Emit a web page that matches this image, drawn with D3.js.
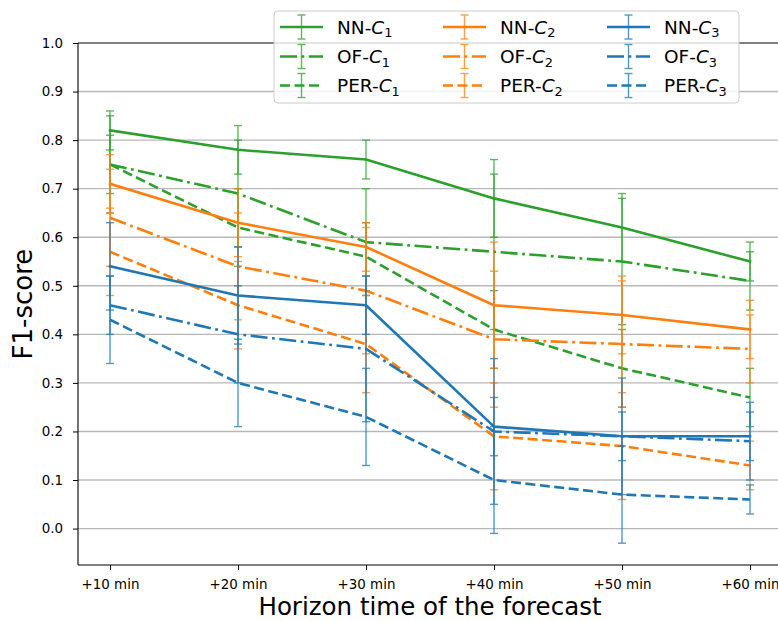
<!DOCTYPE html>
<html><head><meta charset="utf-8">
<script src="https://cdn.jsdelivr.net/npm/d3@7"></script>
<style>body{margin:0;background:#fff}svg{display:block;font-family:"DejaVu Sans",sans-serif}</style>
</head><body><svg id="c" width="778" height="621"></svg>
<script>
// ---- data ----
const horizons = [10, 20, 30, 40, 50, 60];
const tickLabels = ["+10 min", "+20 min", "+30 min", "+40 min", "+50 min", "+60 min"];
const yTicks = [0.0, 0.1, 0.2, 0.3, 0.4, 0.5, 0.6, 0.7, 0.8, 0.9, 1.0];

const nnC1 = [0.82, 0.78, 0.76, 0.68, 0.62, 0.55];
const nnC1Err = [0.04, 0.05, 0.04, 0.08, 0.07, 0.04];
const ofC1 = [0.75, 0.69, 0.59, 0.57, 0.55, 0.51];
const ofC1Err = [0.10, 0.11, 0.11, 0.16, 0.13, 0.06];
const perC1 = [0.75, 0.62, 0.56, 0.41, 0.33, 0.27];
const perC1Err = [0.06, 0.08, 0.07, 0.08, 0.08, 0.06];

const nnC2 = [0.71, 0.63, 0.58, 0.46, 0.44, 0.41];
const nnC2Err = [0.06, 0.07, 0.05, 0.13, 0.08, 0.06];
const ofC2 = [0.64, 0.54, 0.49, 0.39, 0.38, 0.37];
const ofC2Err = [0.10, 0.11, 0.13, 0.14, 0.13, 0.07];
const perC2 = [0.57, 0.46, 0.38, 0.19, 0.17, 0.13];
const perC2Err = [0.09, 0.09, 0.10, 0.11, 0.11, 0.05];

const nnC3 = [0.54, 0.48, 0.46, 0.21, 0.19, 0.19];
const nnC3Err = [0.09, 0.10, 0.06, 0.06, 0.05, 0.05];
const ofC3 = [0.46, 0.40, 0.37, 0.20, 0.19, 0.18];
const ofC3Err = [0.06, 0.10, 0.15, 0.15, 0.12, 0.08];
const perC3 = [0.43, 0.30, 0.23, 0.10, 0.07, 0.06];
const perC3Err = [0.09, 0.09, 0.10, 0.11, 0.10, 0.03];

const methods = ["NN", "OF", "PER"];
const classes = ["1", "2", "3"];

// ---- styles ----
const classColor = {"1": "#2ca02c", "2": "#ff7f0e", "3": "#1f77b4"};
const LW = 2.6;
const methodDash = {"NN": null, "OF": [17, 4.5, 2.8, 4.5].join(","), "PER": [10, 4.5].join(",")};

const series = [
  {m: "NN", c: "1", v: nnC1, e: nnC1Err}, {m: "OF", c: "1", v: ofC1, e: ofC1Err}, {m: "PER", c: "1", v: perC1, e: perC1Err},
  {m: "NN", c: "2", v: nnC2, e: nnC2Err}, {m: "OF", c: "2", v: ofC2, e: ofC2Err}, {m: "PER", c: "2", v: perC2, e: perC2Err},
  {m: "NN", c: "3", v: nnC3, e: nnC3Err}, {m: "OF", c: "3", v: ofC3, e: ofC3Err}, {m: "PER", c: "3", v: perC3, e: perC3Err}
];

const svg = d3.select("#c");
const L = 78, R = 782, T = 43, B = 565;
const x = d3.scaleLinear().domain([7.5, 62.5]).range([L, R]);
const y = d3.scaleLinear().domain([-0.075, 1.0]).range([B, T]);

// grid
svg.append("g").selectAll("line").data(yTicks.filter(d => d < 1)).join("line")
  .attr("x1", L).attr("x2", R).attr("y1", d => y(d)).attr("y2", d => y(d))
  .attr("stroke", "#b8b8b8").attr("stroke-width", 1.4);

// axes
const gy = svg.append("g").attr("transform", `translate(${L},0)`)
  .call(d3.axisLeft(y).tickValues(yTicks).tickFormat(d3.format(".1f")).tickSize(5).tickPadding(10));
const gx = svg.append("g").attr("transform", `translate(0,${B})`)
  .call(d3.axisBottom(x).tickValues(horizons).tickFormat((d, i) => tickLabels[i]).tickSize(5).tickPadding(9.5));
[gx, gy].forEach(g => {
  g.select(".domain").remove();
  g.selectAll("text").attr("font-size", 13.4).attr("fill", "#000").attr("font-family", "DejaVu Sans");
  g.selectAll("line").attr("stroke", "#000").attr("stroke-width", 1);
});

// series
const line = d3.line().x(d => x(d.h)).y(d => y(d.v));
series.forEach(s => {
  const col = classColor[s.c];
  const pts = horizons.map((h, i) => ({h, v: s.v[i], e: s.e[i]}));
  const g = svg.append("g");
  const eb = g.append("g").attr("stroke", col).attr("stroke-width", 1.4).attr("opacity", 0.75);
  eb.selectAll("line.v").data(pts).join("line").attr("class", "v")
    .attr("x1", d => x(d.h)).attr("x2", d => x(d.h))
    .attr("y1", d => y(d.v - d.e)).attr("y2", d => y(d.v + d.e));
  eb.selectAll("line.ct").data(pts).join("line").attr("class", "ct")
    .attr("x1", d => x(d.h) - 4).attr("x2", d => x(d.h) + 4)
    .attr("y1", d => y(d.v + d.e)).attr("y2", d => y(d.v + d.e));
  eb.selectAll("line.cb").data(pts).join("line").attr("class", "cb")
    .attr("x1", d => x(d.h) - 4).attr("x2", d => x(d.h) + 4)
    .attr("y1", d => y(d.v - d.e)).attr("y2", d => y(d.v - d.e));
  const p = g.append("path").datum(pts).attr("d", line)
    .attr("fill", "none").attr("stroke", col).attr("stroke-width", LW)
    .attr("stroke-linejoin", "round");
  if (methodDash[s.m]) p.attr("stroke-dasharray", methodDash[s.m]).attr("stroke-linecap", "butt");
  else p.attr("stroke-linecap", "square");
});

// spines
const sp = svg.append("g").attr("stroke", "#000").attr("stroke-width", 1.1).attr("fill", "none");
sp.append("line").attr("x1", L).attr("x2", L).attr("y1", T).attr("y2", B);
sp.append("line").attr("x1", L).attr("x2", R).attr("y1", B).attr("y2", B);
sp.append("line").attr("x1", L).attr("x2", R).attr("y1", T).attr("y2", T);
sp.append("line").attr("x1", R).attr("x2", R).attr("y1", T).attr("y2", B);

// axis labels
svg.append("text").attr("x", (L + R) / 2).attr("y", 615).attr("text-anchor", "middle")
  .attr("font-size", 24.5).attr("fill", "#000").text("Horizon time of the forecast");
svg.append("text").attr("transform", `translate(32,${(T + B) / 2}) rotate(-90)`).attr("text-anchor", "middle")
  .attr("font-size", 26).attr("fill", "#000").text("F1-score");

// legend
const lg = svg.append("g");
lg.append("rect").attr("x", 274).attr("y", 11).attr("width", 465).attr("height", 92).attr("rx", 4)
  .attr("fill", "#fff").attr("fill-opacity", 0.8).attr("stroke", "#cccccc").attr("stroke-width", 1);
const colX = [280, 443, 607];
const rowY = [27, 56.5, 85.5];
series.forEach((s, k) => {
  const ci = classes.indexOf(s.c), ri = methods.indexOf(s.m);
  const col = classColor[s.c];
  const x0 = colX[ci], yy = rowY[ri], xm = x0 + 21.5;
  const g = lg.append("g");
  const hl = g.append("line").attr("x1", x0).attr("x2", x0 + 43).attr("y1", yy).attr("y2", yy)
    .attr("stroke", col).attr("stroke-width", LW);
  if (methodDash[s.m]) hl.attr("stroke-dasharray", methodDash[s.m]);
  const eb = g.append("g").attr("stroke", col).attr("stroke-width", 1.4).attr("opacity", 0.75);
  eb.append("line").attr("x1", xm).attr("x2", xm).attr("y1", yy - 12).attr("y2", yy + 12);
  eb.append("line").attr("x1", xm - 4).attr("x2", xm + 4).attr("y1", yy - 12).attr("y2", yy - 12);
  eb.append("line").attr("x1", xm - 4).attr("x2", xm + 4).attr("y1", yy + 12).attr("y2", yy + 12);
  const t = g.append("text").attr("x", x0 + 57).attr("y", yy + 6.7).attr("font-size", 18.5).attr("fill", "#000");
  t.append("tspan").text(s.m + "-");
  t.append("tspan").attr("font-style", "italic").text("C");
  t.append("tspan").attr("font-size", 12.9).attr("dy", 3.3).text(s.c);
});
</script></body></html>
